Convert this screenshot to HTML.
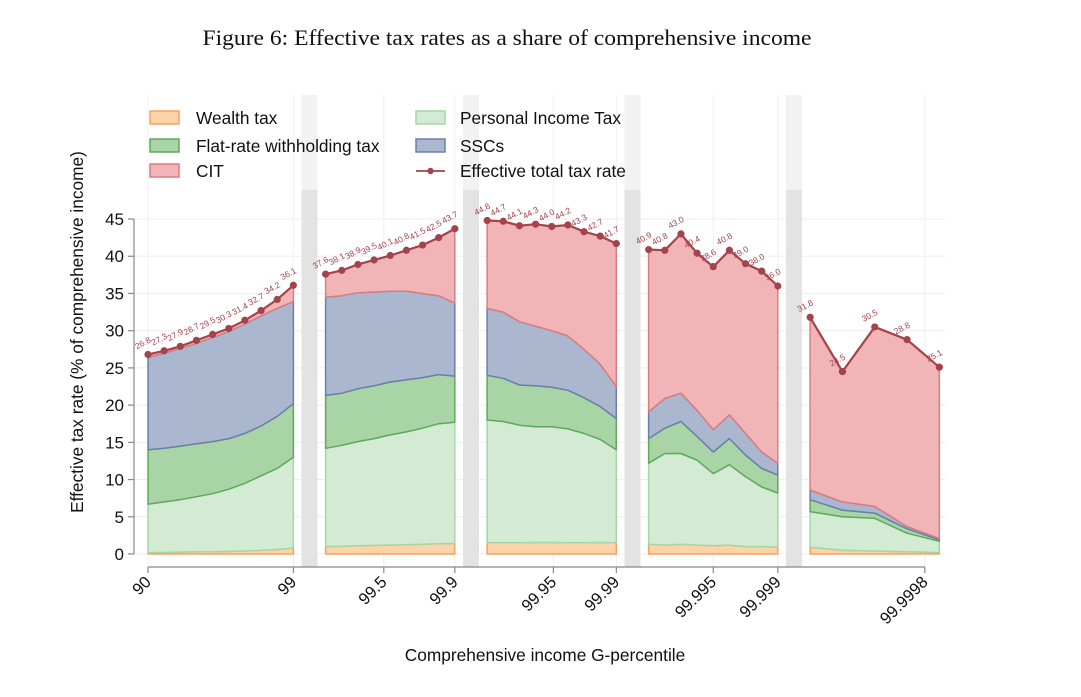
<!DOCTYPE html>
<html><head><meta charset="utf-8"><style>
body{margin:0;background:#fff;}
svg{display:block;font-family:"Liberation Sans",sans-serif;}
</style></head><body>
<svg id="chart" width="1081" height="697" viewBox="0 0 1081 697" xmlns="http://www.w3.org/2000/svg">
<rect width="1081" height="697" fill="#fff"/>
<text x="507" y="45" text-anchor="middle" font-family="Liberation Serif, serif" font-size="22" textLength="609" lengthAdjust="spacingAndGlyphs" fill="#111">Figure 6: Effective tax rates as a share of comprehensive income</text>
<g id="grid"></g>
<g id="bands"></g>
<g id="areas"></g>
<g id="axes"></g>
<g id="legend"></g>
<text transform="translate(83,332) rotate(-90)" text-anchor="middle" font-size="17.3" fill="#111">Effective tax rate (% of comprehensive income)</text>
<text x="545" y="661" text-anchor="middle" font-size="17.3" fill="#111">Comprehensive income G-percentile</text>
</svg>
<script>
// slot positions of points (category index along x), per segment
const segSlots = [[0,1,2,3,4,5,6,7,8,9],[11,12,13,14,15,16,17,18,19],[21,22,23,24,25,26,27,28,29],[31,32,33,34,35,36,37,38,39],[41,43,45,47,49]];
// cumulative stack tops
const wealthTop = [[0.2,0.2,0.25,0.3,0.3,0.35,0.4,0.5,0.6,0.8],[1.0,1.05,1.1,1.15,1.2,1.25,1.3,1.4,1.4],[1.5,1.5,1.5,1.55,1.55,1.5,1.5,1.55,1.5],[1.3,1.2,1.3,1.2,1.1,1.2,1.0,1.0,0.9],[0.9,0.5,0.4,0.3,0.2]];
const pitTop = [[6.7,7.0,7.3,7.7,8.1,8.7,9.5,10.5,11.5,13.0],[14.2,14.6,15.1,15.5,16.0,16.4,16.9,17.5,17.7],[18.0,17.8,17.3,17.1,17.1,16.8,16.2,15.4,14.0],[12.2,13.5,13.5,12.6,10.8,12.0,10.4,9.0,8.2],[5.7,5.0,4.8,2.8,1.7]];
const flatTop = [[14.0,14.2,14.5,14.8,15.1,15.5,16.2,17.2,18.5,20.2],[21.3,21.6,22.2,22.6,23.1,23.4,23.7,24.1,23.9],[24.0,23.6,22.7,22.6,22.4,22.0,21.0,19.8,18.2],[15.5,16.9,17.8,15.8,13.7,15.5,13.3,11.5,10.6],[7.3,5.9,5.5,3.4,1.9]];
const sscTop = [[26.4,27.0,27.6,28.3,29.1,29.9,30.9,32.0,33.0,33.9],[34.5,34.7,35.1,35.2,35.3,35.3,35.0,34.7,33.7],[33.0,32.5,31.2,30.6,30.0,29.3,27.5,25.5,22.5],[19.1,20.9,21.6,19.3,16.7,18.7,16.2,13.7,12.2],[8.6,7.0,6.4,3.7,2.1]];
const totalRate = [[26.8,27.3,27.9,28.7,29.5,30.3,31.4,32.7,34.2,36.1],[37.6,38.1,38.9,39.5,40.1,40.8,41.5,42.5,43.7],[44.8,44.7,44.1,44.3,44.0,44.2,43.3,42.7,41.7],[40.9,40.8,43.0,40.4,38.6,40.8,39.0,38.0,36.0],[31.8,24.5,30.5,28.8,25.1]];
const xTickLabels = ["90","99","99.5","99.9","99.95","99.99","99.995","99.999","99.9998"];
const xTickSlots = [0,9,14.6,19,25.1,29,35,39,48.1];
const gapSlots = [10,20,30,40];
const yTicks = [0,5,10,15,20,25,30,35,40,45];

const NS="http://www.w3.org/2000/svg";
const X = s => 148 + s*16.15;
const Y = v => 554 - v*7.444;
function mk(tag, attrs, parent){const e=document.createElementNS(NS,tag);for(const k in attrs)e.setAttribute(k,attrs[k]);parent.appendChild(e);return e;}
const grid=document.getElementById('grid'), bands=document.getElementById('bands'), areas=document.getElementById('areas'), axes=document.getElementById('axes'), legend=document.getElementById('legend');

yTicks.forEach(v=>{
  const l=mk('line',{x1:135,x2:945,y1:Y(v),y2:Y(v),stroke:'#eeeeee','stroke-width':1},grid);
  
  
});
xTickSlots.forEach(s=>{
  const l=mk('line',{x1:X(s),x2:X(s),y1:95,y2:567,stroke:'#f0f0f0','stroke-width':1},grid);
  
  
});
gapSlots.forEach(s=>{
  const a=mk('rect',{x:X(s)-8,y:95,width:16,height:95,fill:'#f2f2f2'},bands);
  
  
  const b=mk('rect',{x:X(s)-8,y:190,width:16,height:377,fill:'#e3e3e3'},bands);
  
  
});

const layers=[
 {name:'wealth-tax-area',fill:'#fdd3a9',stroke:'#f5a261',top:wealthTop,bot:null},
 {name:'pit-area',fill:'#d2ebd2',stroke:'#a6d6a6',top:pitTop,bot:wealthTop},
 {name:'flat-tax-area',fill:'#a9d4a6',stroke:'#5ea95c',top:flatTop,bot:pitTop},
 {name:'ssc-area',fill:'#aab7cf',stroke:'#6b80a9',top:sscTop,bot:flatTop},
 {name:'cit-area',fill:'#f1b4b7',stroke:'#dc7b80',top:totalRate,bot:sscTop}
];
segSlots.forEach((slots,si)=>{
  layers.forEach(L=>{
    const top=slots.map((s,i)=>[X(s),Y(L.top[si][i])]);
    const bot=slots.map((s,i)=>[X(s),Y(L.bot?L.bot[si][i]:0)]).reverse();
    const d='M'+top.concat(bot).map(p=>p[0].toFixed(1)+','+p[1].toFixed(1)).join('L')+'Z';
    const p=mk('path',{d:d,fill:L.fill,stroke:L.stroke,'stroke-width':1.5,'stroke-linejoin':'round'},areas);
    
    
  });
  const pts=slots.map((s,i)=>X(s).toFixed(1)+','+Y(totalRate[si][i]).toFixed(1)).join(' ');
  const pl=mk('polyline',{points:pts,fill:'none',stroke:'#a3434b','stroke-width':2.2},areas);
  
  
  slots.forEach((s,i)=>{
    const x=X(s),y=Y(totalRate[si][i]);
    const c=mk('circle',{cx:x,cy:y,r:3.6,fill:'#a3434b'},areas);
    
    
    const t=mk('text',{x:0,y:0,transform:`translate(${x-11},${y-5}) rotate(-28)`,'font-size':8.5,fill:'#a3434b'},areas);
    t.textContent=totalRate[si][i].toFixed(1);
    
    
  });
});

// axes
mk('line',{x1:134,x2:134,y1:Y(45),y2:Y(0),stroke:'#888','stroke-width':1.2},axes);
yTicks.forEach(v=>{
  mk('line',{x1:128,x2:134,y1:Y(v),y2:Y(v),stroke:'#888','stroke-width':1.2},axes);
  const t=mk('text',{x:124,y:Y(v)+6,'text-anchor':'end','font-size':17,fill:'#111'},axes);
  t.textContent=v;
  
  
});
mk('line',{x1:X(0),x2:X(48.1),y1:567,y2:567,stroke:'#888','stroke-width':1.2},axes);
xTickSlots.forEach((s,i)=>{
  mk('line',{x1:X(s),x2:X(s),y1:567,y2:573,stroke:'#888','stroke-width':1.2},axes);
  const t=mk('text',{x:0,y:0,transform:`translate(${X(s)+4},${583}) rotate(-45)`,'text-anchor':'end','font-size':16.5,fill:'#111'},axes);
  t.textContent=xTickLabels[i];
  
  
});

// legend
const leg=[
 ['Wealth tax','#fdd3a9','#f5a261',150,118],
 ['Flat-rate withholding tax','#a9d4a6','#5ea95c',150,146],
 ['CIT','#f1b4b7','#dc7b80',150,171],
 ['Personal Income Tax','#d2ebd2','#a6d6a6',416,118],
 ['SSCs','#aab7cf','#6b80a9',416,146]
];
leg.forEach(e=>{
  const r=mk('rect',{x:e[3],y:e[4]-7,width:29,height:13,fill:e[1],stroke:e[2],'stroke-width':1.5},legend);
  
  
  const t=mk('text',{x:e[3]==150?196:460,y:e[4]+6,'font-size':17.3,fill:'#111'},legend);
  t.textContent=e[0];
  
  
});
mk('line',{x1:416,x2:445,y1:171,y2:171,stroke:'#a3434b','stroke-width':1.8},legend);
mk('circle',{cx:430.5,cy:171,r:3.2,fill:'#a3434b'},legend);
const lt=mk('text',{x:460,y:177,'font-size':17.3,fill:'#111'},legend);
lt.textContent='Effective total tax rate';


</script>
</body></html>
